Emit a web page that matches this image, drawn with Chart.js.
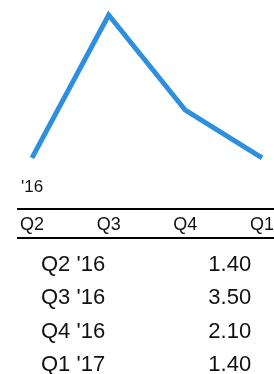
<!DOCTYPE html>
<html>
<head>
<meta charset="utf-8">
<script src="https://cdn.jsdelivr.net/npm/chart.js@4"></script>
<style>
  html, body { margin: 0; padding: 0; background: #fff; }
  body { width: 274px; height: 374px; overflow: hidden; position: relative; font-family: Arial, "Liberation Sans", sans-serif; }
  #wrap { position: absolute; top: 0; left: 0; width: 274px; height: 245px; }
  .rule { position: absolute; left: 17px; width: 257px; height: 2px; background: #000; }
  table { position: absolute; top: 247px; left: 41px; border-collapse: collapse; font-size: 22px; color: #111; }
  td { padding: 0; height: 33.3px; line-height: 33px; }
  td.v { text-align: right; width: 146px; }
</style>
</head>
<body>
<div id="wrap"><canvas id="trend" width="274" height="245"></canvas></div>
<div class="rule" style="top:208px"></div>
<div class="rule" style="top:237px"></div>
<table id="vals"></table>
<script>
// quarters + values
const quarters = ['Q2', 'Q3', 'Q4', 'Q1'];
const years = ["'16", "'16", "'16", "'17"];
const values = [1.40, 3.50, 2.10, 1.40];

const lineColor = '#2f8fdf';

// year tag above the first quarter
const yearTag = {
    id: 'yearTag',
    afterDraw(chart) {
        const ctx = chart.ctx;
        const x0 = chart.scales.x.getPixelForValue(0);
        ctx.save();
        ctx.font = '17px Arial, "Liberation Sans", sans-serif';
        ctx.textAlign = 'left';
        ctx.textBaseline = 'alphabetic';
        ctx.fillStyle = '#111';
        ctx.fillText(years[0], x0 - 11, 192);
        ctx.restore();
    }
};

new Chart(document.getElementById('trend'), {
    type: 'line',
    data: {
        labels: quarters,
        datasets: [{
            data: values,
            borderColor: lineColor,
            borderWidth: 5,
            borderJoinStyle: 'miter',
            pointRadius: 0,
            tension: 0,
            clip: false
        }]
    },
    options: {
        responsive: false,
        animation: false,
        devicePixelRatio: 1,
        layout: { padding: { left: 32, right: 12, top: 0, bottom: 0 } },
        plugins: { legend: { display: false }, tooltip: { enabled: false } },
        scales: {
            x: {
                offset: false,
                grid: { display: false, drawTicks: false },
                border: { display: false },
                ticks: {
                    color: '#111',
                    padding: 14,
                    maxRotation: 0,
                    autoSkip: false,
                    font: { family: 'Arial', size: 18 }
                },
                afterFit(scale) {
                    scale.height = 45;
                    // don't let the edge labels push the plot inwards
                    scale.paddingLeft = 0;
                    scale.paddingRight = 0;
                }
            },
            y: { display: false, min: 0.78, max: 3.72 }
        }
    },
    plugins: [yearTag]
});

// value table under the chart
const tbl = document.getElementById('vals');
quarters.forEach((q, i) => {
    const tr = document.createElement('tr');
    tr.innerHTML = '<td>' + q + ' ' + years[i] + '</td><td class="v">' + values[i].toFixed(2) + '</td>';
    tbl.appendChild(tr);
});
</script>
</body>
</html>
